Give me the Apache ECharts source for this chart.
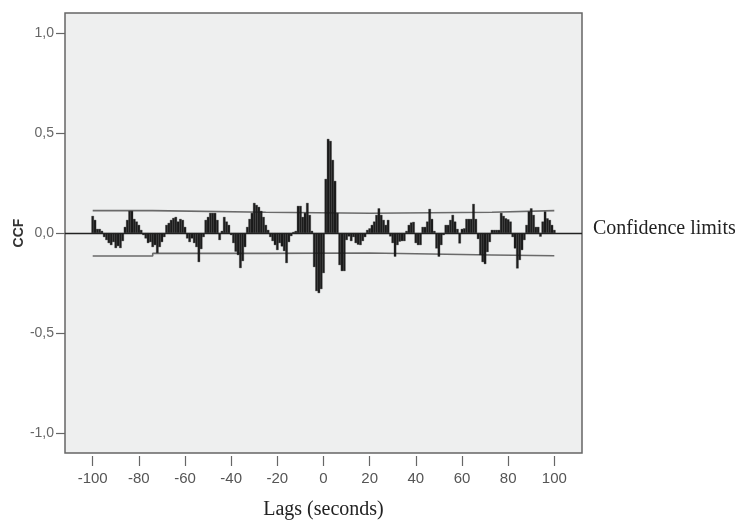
<!DOCTYPE html>
<html>
<head>
<meta charset="utf-8">
<script src="https://cdn.jsdelivr.net/npm/echarts@6/dist/echarts.min.js"></script>
<style>
  html, body { margin: 0; padding: 0; background: #fff; }
  #chart { width: 744px; height: 521px; }
</style>
</head>
<body>
<div id="chart"></div>
<script>
// lag range of the cross-correlation (seconds)
const lagMin = -100;
const lagMax = 100;

// CCF value at each lag, lag -100 .. 100 (10 per row)
const ccf = [
  0.085, 0.065, 0.02, 0.02, 0.01, -0.02, -0.035, -0.05, -0.06, -0.045,   // -100..-91
  -0.075, -0.065, -0.075, -0.04, 0.03, 0.065, 0.11, 0.11, 0.07, 0.057,   // -90..-81
  0.04, 0.015, -0.01, -0.027, -0.05, -0.045, -0.07, -0.06, -0.1, -0.07,  // -80..-71
  -0.045, -0.02, 0.04, 0.05, 0.065, 0.075, 0.08, 0.057, 0.07, 0.065,     // -70..-61
  0.03, -0.027, -0.045, -0.027, -0.05, -0.07, -0.145, -0.08, -0.02, 0.065, // -60..-51
  0.08, 0.1, 0.1, 0.1, 0.065, -0.035, 0.01, 0.08, 0.057, 0.04,           // -50..-41
  -0.01, -0.05, -0.093, -0.11, -0.175, -0.14, -0.07, 0.03, 0.07, 0.1,    // -40..-31
  0.15, 0.14, 0.13, 0.11, 0.08, 0.04, 0.015, -0.02, -0.04, -0.06,        // -30..-21
  -0.085, -0.05, -0.067, -0.09, -0.15, -0.045, -0.015, 0.005, 0.01, 0.135, // -20..-11
  0.135, 0.08, 0.1, 0.15, 0.09, 0.01, -0.17, -0.29, -0.3, -0.28,         // -10..-1
  -0.2,                                                                  // 0
  0.27, 0.47, 0.46, 0.365, 0.26, 0.1, -0.16, -0.19, -0.19, -0.035,       // 1..10
  -0.017, -0.04, -0.02, -0.05, -0.058, -0.06, -0.04, -0.02, 0.015, 0.023, // 11..20
  0.04, 0.057, 0.09, 0.123, 0.09, 0.065, 0.04, 0.065, -0.017, -0.05,     // 21..30
  -0.118, -0.06, -0.043, -0.04, -0.04, 0.01, 0.04, 0.052, 0.055, -0.05,  // 31..40
  -0.06, -0.06, 0.03, 0.03, 0.057, 0.12, 0.07, 0.01, -0.077, -0.118,     // 41..50
  -0.06, -0.01, 0.04, 0.04, 0.065, 0.09, 0.057, 0.02, -0.052, 0.02,      // 51..60
  0.023, 0.07, 0.07, 0.07, 0.145, 0.07, -0.03, -0.11, -0.145, -0.155,    // 61..70
  -0.095, -0.045, 0.015, 0.015, 0.015, 0.015, 0.1, 0.085, 0.073, 0.068,  // 71..80
  0.057, -0.02, -0.077, -0.177, -0.135, -0.085, -0.035, 0.04, 0.107, 0.123, // 81..90
  0.09, 0.03, 0.03, -0.018, 0.057, 0.107, 0.073, 0.065, 0.04, 0.015      // 91..100
];

// confidence limits, drawn as steps between these lags
const confLags = [-100, -74, -25, 20, 73, 100];
const confUpper = [0.112, 0.104, 0.099, 0.104, 0.112, 0.112];
const confLower = [-0.115, -0.102, -0.1, -0.11, -0.114, -0.114];

// tick labels
const xTicks = [-100, -80, -60, -40, -20, 0, 20, 40, 60, 80, 100];
const yTicks = [-1, -0.5, 0, 0.5, 1];

const lags = [];
for (let k = lagMin; k <= lagMax; k++) lags.push(k);

const chart = echarts.init(document.getElementById("chart"));

const option = {
  backgroundColor: "#ffffff",
  animation: false,
  title: {
    text: "Confidence limits",
    left: 588,
    top: 214,
    textStyle: {
      fontFamily: "Liberation Serif",
      fontWeight: "normal",
      fontSize: 20,
      color: "#222"
    }
  },
  // y axis title, placed by hand since the axis name drifts left
  graphic: [
    {
      type: "text",
      x: 19,
      y: 233,
      rotation: Math.PI / 2,
      style: {
        text: "CCF",
        fontFamily: "Liberation Sans",
        fontWeight: "bold",
        fontSize: 14,
        fill: "#333",
        align: "center",
        verticalAlign: "middle"
      }
    }
  ],
  grid: {
    left: 65,
    right: 162,
    top: 13,
    bottom: 68,
    outerBoundsMode: "none",
    show: true,
    backgroundColor: "#eeefef",
    borderColor: "#666",
    borderWidth: 1.5
  },
  xAxis: {
    type: "value",
    min: -112,
    max: 112,
    offset: 3,
    name: "Lags (seconds)",
    nameLocation: "middle",
    nameGap: 44,
    nameTextStyle: {
      fontFamily: "Liberation Serif",
      fontSize: 20,
      color: "#222"
    },
    axisLine: { show: false, onZero: false },
    splitLine: { show: false },
    axisTick: {
      show: true,
      length: 10,
      customValues: xTicks,
      lineStyle: { color: "#666", width: 1.2 }
    },
    axisLabel: {
      customValues: xTicks,
      margin: 15,
      fontFamily: "Liberation Sans",
      fontSize: 15,
      color: "#555"
    }
  },
  yAxis: {
    type: "value",
    min: -1.1,
    max: 1.1,
    axisLine: { show: false, onZero: false },
    splitLine: { show: false },
    axisTick: {
      show: true,
      length: 9,
      customValues: yTicks,
      lineStyle: { color: "#666", width: 1.2 }
    },
    axisLabel: {
      customValues: yTicks,
      margin: 11,
      fontFamily: "Liberation Sans",
      fontSize: 14,
      color: "#666",
      formatter: v => v.toFixed(1).replace(".", ",")
    }
  },
  series: [
    {
      type: "bar",
      data: lags.map((k, i) => [k, ccf[i]]),
      barWidth: 2.4,
      itemStyle: {
        color: "#1e1e1e",
        borderColor: "#111",
        borderWidth: 0.3
      },
      markLine: {
        silent: true,
        symbol: "none",
        label: { show: false },
        lineStyle: { color: "#222", width: 1.3, type: "solid" },
        data: [{ yAxis: 0 }]
      },
      z: 3
    },
    {
      type: "line",
      step: "end",
      data: confLags.map((k, i) => [k, confUpper[i]]),
      showSymbol: false,
      lineStyle: { color: "#6a6a6a", width: 1.6 },
      z: 2
    },
    {
      type: "line",
      step: "end",
      data: confLags.map((k, i) => [k, confLower[i]]),
      showSymbol: false,
      lineStyle: { color: "#6a6a6a", width: 1.6 },
      z: 2
    }
  ]
};

chart.setOption(option);
</script>
</body>
</html>
